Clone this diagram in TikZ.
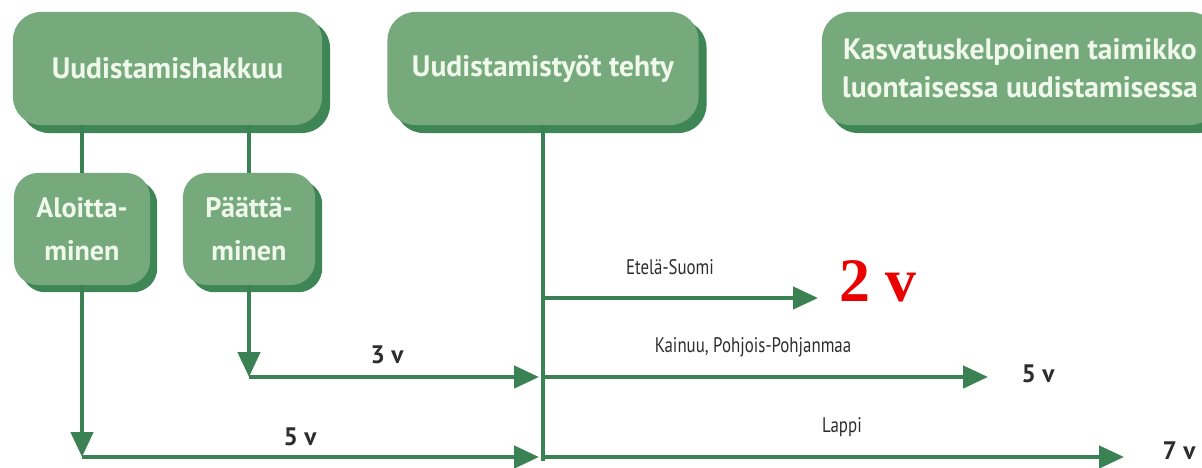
\documentclass[tikz,border=0pt]{standalone}
\usepackage{fontspec}
\setmainfont{PT Sans}
\newfontfamily\boxfont{PT Sans}
\newfontfamily\labelfont[FakeStretch=0.8]{PT Sans}
\newfontfamily\redfont{Liberation Serif}
\usetikzlibrary{positioning,arrows.meta,shadows}
\definecolor{BoxFill}{RGB}{118,170,125}
\definecolor{BoxShadow}{RGB}{62,134,86}
\definecolor{LineGreen}{RGB}{58,130,84}
\definecolor{BoxText}{RGB}{240,248,236}
\definecolor{LabelGray}{RGB}{45,45,45}
\definecolor{AlertRed}{RGB}{235,0,0}
\tikzset{
  flow/.style={-{Triangle[length=6.2mm,width=5.5mm]},line width=1mm,draw=LineGreen},
  trunk/.style={line width=1mm,draw=LineGreen},
  bigbox/.style={fill=BoxFill,rounded corners=7mm,text=BoxText,
    drop shadow={shadow xshift=2mm,shadow yshift=-2mm,fill=BoxShadow,opacity=1},
    font=\boxfont\bfseries\fontsize{21}{27}\selectfont,align=center,
    minimum height=2.825cm,inner sep=0pt},
  smallbox/.style={fill=BoxFill,rounded corners=6mm,text=BoxText,
    drop shadow={shadow xshift=1.8mm,shadow yshift=-1.8mm,fill=BoxShadow,opacity=1},
    font=\boxfont\bfseries\fontsize{20}{31}\selectfont,align=center,
    minimum width=3.4cm,minimum height=2.8cm,inner sep=0pt},
  lbl/.style={text=LabelGray,font=\labelfont\fontsize{15}{17}\selectfont},
  yearlbl/.style={text=LabelGray,font=\boxfont\bfseries\fontsize{18}{20}\selectfont}
}
\begin{document}
\begin{tikzpicture}[x=0.025cm,y=-0.025cm]
  \clip (0,0) rectangle (1202,467);
  % boxes on top
  \node[bigbox,minimum width=7.725cm] (hakkuu) at (167.5,68.5) {Uudistamishakkuu};
  \node[bigbox,minimum width=7.775cm] (tehty) at (543,68.5) {Uudistamistyöt tehty};
  \node[bigbox,minimum width=9.9cm] (taimikko) at (1020,68.5) {Kasvatuskelpoinen taimikko\\luontaisessa uudistamisessa};
  \node[smallbox] (aloitus) at (82,229) {Aloitta-\\minen};
  \node[smallbox,minimum width=3.3cm] (paatos) at (249,229) {Päättä-\\minen};

  % arrow ends
  \coordinate (etelaEnd) at (818,298);
  \coordinate (kainuuEnd) at (988,377);
  \coordinate (lappiEnd) at (1124,457);
  \coordinate (trunkEnd) at (543,461);

  \draw[trunk] (aloitus.north |- hakkuu.south) -- (aloitus.north);
  \draw[trunk] (paatos.north |- hakkuu.south) -- (paatos.north);
  \draw[trunk] (tehty.south) -- (trunkEnd);

  \draw[flow] (aloitus.south) -- (aloitus.south |- lappiEnd);
  \draw[flow] (paatos.south) -- (paatos.south |- kainuuEnd);
  \draw[flow] (aloitus.south |- lappiEnd) -- ([xshift=-1mm]tehty.south |- lappiEnd);
  \draw[flow] (paatos.south |- kainuuEnd) -- ([xshift=-1mm]tehty.south |- kainuuEnd);

  \draw[flow] (tehty.south |- etelaEnd) -- (etelaEnd);
  \draw[flow] (tehty.south |- kainuuEnd) -- (kainuuEnd);
  \draw[flow] (tehty.south |- lappiEnd) -- (lappiEnd);

  % labels
  \node[yearlbl] (kolme) at (387,355) {3 v};
  \node[yearlbl] (viisiA) at (300,437) {5 v};
  \node[lbl] (etela) at (670,267) {Etelä-Suomi};
  \node[lbl] (kainuu) at (753,347) {Kainuu, Pohjois-Pohjanmaa};
  \node[lbl] (lappi) at (842,427) {Lappi};
  \node[yearlbl] (viisiB) at (1038,374) {5 v};
  \node[yearlbl,inner sep=0pt] (seitseman) at (1179,451) {7 v};
  \node[text=AlertRed,font=\redfont\bfseries\fontsize{44}{48}\selectfont] (kaksi) at (878,281) {2 v};
\end{tikzpicture}
\end{document}
